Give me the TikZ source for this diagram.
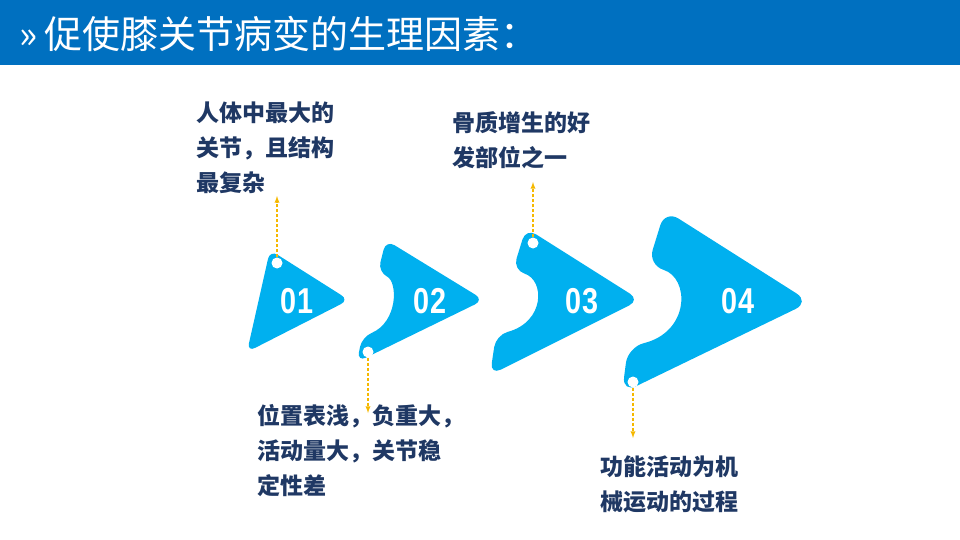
\documentclass[tikz,border=0pt]{standalone}
\usepackage{fontspec}
\usepackage{xcolor}
\newfontfamily\cjk{Noto Sans CJK SC}
\setmainfont{Liberation Sans}
\definecolor{barblue}{HTML}{0070C0}
\definecolor{arrowblue}{HTML}{00B0EF}
\definecolor{textblue}{HTML}{1F3864}
\definecolor{tipgold}{HTML}{F5B800}

\begin{document}
\begin{tikzpicture}[x=1pt, y=-1pt]
			\useasboundingbox (0, 0) rectangle (960, 540);
			\fill[barblue] (0, 0) rectangle (960, 65);
			\node[anchor=west, text=white, font=\cjk\fontsize{38}{38}\selectfont] (title) at (16, 34) {»\,促使膝关节病变的生理因素：};
			
			\fill[arrowblue, rounded corners=9] (270, 250) -- (349, 300) -- (247, 352) -- cycle;
			
			\fill[arrowblue, rounded corners=10] (386, 240) -- (484, 300) -- (357, 362) -- (362, 337) .. controls (398, 322) and (398, 282) .. (378, 272) -- cycle;
			
			\fill[arrowblue, rounded corners=12] (526, 228) -- (640, 300) -- (490, 375) -- (496, 335) .. controls (545, 322) and (545, 280) .. (513, 270) -- cycle;
			
			\fill[arrowblue, rounded corners=16] (665, 210) -- (810, 302) -- (622, 393) -- (628, 347) .. controls (690, 332) and (690, 278) .. (648, 265) -- cycle;
			
			\begin{scope}[
				num/.style={text=white, font=\bfseries\fontsize{36}{36}\selectfont, xscale=0.8},
				dot/.style={circle, fill=white, minimum size=11pt, inner sep=0pt},
				note/.style={anchor=north west, align=left, text=textblue, font=\cjk\bfseries\fontsize{23}{35}\selectfont, inner sep=0pt}]
				\node[num] (N1) at (297, 301) {01};
				\node[num] (N2) at (430, 301) {02};
				\node[num] (N3) at (582, 301) {03};
				\node[num] (N4) at (738, 301) {04};
				
				\node[dot] (D1) at (277, 263) {};
				\node[dot] (D2) at (368, 352) {};
				\node[dot] (D3) at (533, 243) {};
				\node[dot] (D4) at (633, 382) {};
				
				\coordinate (E1) at (277, 196);
				\coordinate (E2) at (368, 413);
				\coordinate (E3) at (533, 182);
				\coordinate (E4) at (633, 438);
				
				\node[note] (T1) at (196, 102) {人体中最大的\\关节，且结构\\最复杂};
				\node[note] (T2) at (257, 404) {位置表浅，负重大，\\活动量大，关节稳\\定性差};
				\node[note] (T3) at (452, 111) {骨质增生的好\\发部位之一};
				\node[note] (T4) at (600, 456) {功能活动为机\\械运动的过程};
			\end{scope}
			
			\draw[-latex, dash pattern=on 3pt off 2pt, tipgold, line width=1.3pt] (D1) -- (E1);
			\draw[-latex, dash pattern=on 3pt off 2pt, tipgold, line width=1.3pt] (D2) -- (E2);
			\draw[-latex, dash pattern=on 3pt off 2pt, tipgold, line width=1.3pt] (D3) -- (E3);
			\draw[-latex, dash pattern=on 3pt off 2pt, tipgold, line width=1.3pt] (D4) -- (E4);
		\end{tikzpicture}
\end{document}
